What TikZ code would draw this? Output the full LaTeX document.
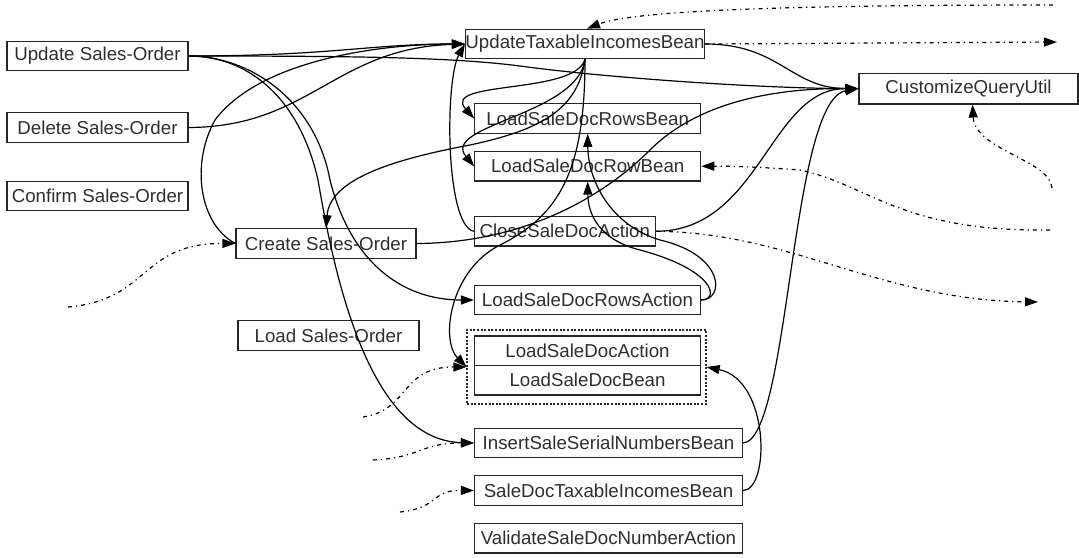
\documentclass[tikz,border=0pt]{standalone}
\usepackage{fontspec}
\setmainfont{Liberation Sans}
\usetikzlibrary{arrows.meta}
\begin{document}
\begin{tikzpicture}[x=1pt,y=-1pt,
  box/.style={draw=black!85, line width=1.2pt, inner sep=0pt, text=black!82,
    font=\fontsize{18.7}{20}\selectfont, minimum height=29.5pt},
  conn/.style={line width=1.2pt, black, -{Triangle[length=13pt,width=9pt]}},
  ext/.style={conn, dash pattern=on 4pt off 4pt on 1.2pt off 4pt},
  grp/.style={draw=black!85, line width=1.2pt, dash pattern=on 2pt off 1.6pt, inner sep=0pt}]
\useasboundingbox (0,0) rectangle (1079,557);

% left column
\node[box, minimum width=181pt] (upd) at (97.5,56) {Update Sales-Order};
\node[box, minimum width=181pt] (del) at (97.5,127.5) {Delete Sales-Order};
\node[box, minimum width=181pt] (conf) at (97.5,196) {Confirm Sales-Order};
\node[box, minimum width=180pt] (create) at (326,243.5) {Create Sales-Order};
\node[box, minimum width=181pt] (load) at (328.5,335.5) {Load Sales-Order};

% middle column
\node[box, minimum width=227pt] (utib) at (585,44) {UpdateTaxableIncomesBean};
\node[box, minimum width=226pt] (ldrsb) at (587.7,118.5) {LoadSaleDocRowsBean};
\node[box, minimum width=226pt] (ldrb) at (587.7,166.3) {LoadSaleDocRowBean};
\node[box, minimum width=181pt] (close) at (564.8,231.3) {CloseSaleDocAction};
\node[box, minimum width=226pt] (ldrsa) at (587.5,300) {LoadSaleDocRowsAction};
\node[grp, minimum width=239pt, minimum height=74pt] (group) at (586.5,367) {};
\node[box, minimum width=226pt] (lda) at (587.5,350.8) {LoadSaleDocAction};
\node[box, minimum width=226pt] (ldb) at (587.5,380.3) {LoadSaleDocBean};
\node[box, minimum width=268pt] (issnb) at (608.5,443) {InsertSaleSerialNumbersBean};
\node[box, minimum width=268pt] (sdtib) at (608.5,490.5) {SaleDocTaxableIncomesBean};
\node[box, minimum width=268pt] (vsdna) at (608.5,538.3) {ValidateSaleDocNumberAction};

% right
\node[box, minimum width=219pt, minimum height=30.5pt] (cqu) at (968.5,88.7) {CustomizeQueryUtil};

% free ends
\coordinate (e1) at (1053,5);
\coordinate (e2) at (1057,42);
\coordinate (e3) at (1052,188);
\coordinate (e4) at (1050,230);
\coordinate (e5) at (1038,302);
\coordinate (e6) at (68,307);
\coordinate (e7) at (363,417);
\coordinate (e8) at (373,460);
\coordinate (e9) at (400,512);

% solid connectors
\draw[conn] (upd.east) .. controls (330,56) and (370,44) .. (utib.west);
\draw[conn] (del.east) .. controls (310,127) and (335,48) .. (utib.west);
\draw[conn] (create.west) .. controls (200,225) and (190,165) .. (215,120)
   .. controls (260,60) and (380,44) .. (utib.west);
\draw[conn] (upd.east) .. controls (350,56) and (450,57) .. (520,66)
   .. controls (600,77) and (750,88) .. (cqu.west);
\draw[conn] (upd.east) .. controls (250,56) and (315,100) .. (330,180)
   .. controls (350,260) and (400,300) .. (ldrsa.west);
\draw[conn] (upd.east) .. controls (250,56) and (300,100) .. (318,180)
   .. controls (335,280) and (370,440) .. (issnb.west);
\draw[conn] (utib.south) .. controls (575,95) and (440,80) .. (ldrsb.west);
\draw[conn] (utib.south) .. controls (578,115) and (440,125) .. (ldrb.west);
\draw[conn] (utib.south) .. controls (578,110) and (540,130) .. (470,145)
   .. controls (390,160) and (330,180) .. (create.north);
\draw[conn] (utib.south) .. controls (585,170) and (560,215) .. (500,245)
   .. controls (450,270) and (440,340) .. (group.west);
\draw[conn] (utib.east) .. controls (780,44) and (790,88) .. (cqu.west);
\draw[conn] (close.west) .. controls (445,225) and (445,80) .. (utib.west);
\draw[conn] (close.east) .. controls (760,231) and (770,88) .. (cqu.west);
\draw[conn] (create.east) .. controls (520,243) and (600,200) .. (650,150)
   .. controls (700,100) and (780,88) .. (cqu.west);
\draw[conn] (ldrsa.east) .. controls (725,300) and (725,255) .. (660,240)
   .. controls (610,225) and (588,180) .. (ldrsb.south);
\draw[conn] (ldrsa.east) .. controls (720,300) and (715,270) .. (640,250)
   .. controls (600,240) and (588,215) .. (ldrb.south);
\draw[conn] (issnb.east) .. controls (790,440) and (790,100) .. (cqu.west);
\draw[conn] (sdtib.east) .. controls (770,490) and (770,380) .. (group.east);

% dash-dot connectors
\draw[ext] (e1) .. controls (850,5) and (640,8) .. ([xshift=2pt]utib.north);
\draw[ext] (utib.east) -- (e2);
\draw[ext] (e3) .. controls (1050,160) and (975,150) .. ([xshift=4pt]cqu.south);
\draw[ext] (e4) .. controls (900,232) and (870,185) .. (800,170)
   .. controls (760,167) and (730,166) .. (ldrb.east);
\draw[ext] (close.east) .. controls (790,232) and (880,300) .. (e5);
\draw[ext] (e6) .. controls (150,300) and (140,243) .. (create.west);
\draw[ext] (e7) .. controls (410,410) and (400,367) .. (group.west);
\draw[ext] (e8) .. controls (420,458) and (420,443) .. (issnb.west);
\draw[ext] (e9) .. controls (440,508) and (430,490) .. (sdtib.west);
\end{tikzpicture}
\end{document}
